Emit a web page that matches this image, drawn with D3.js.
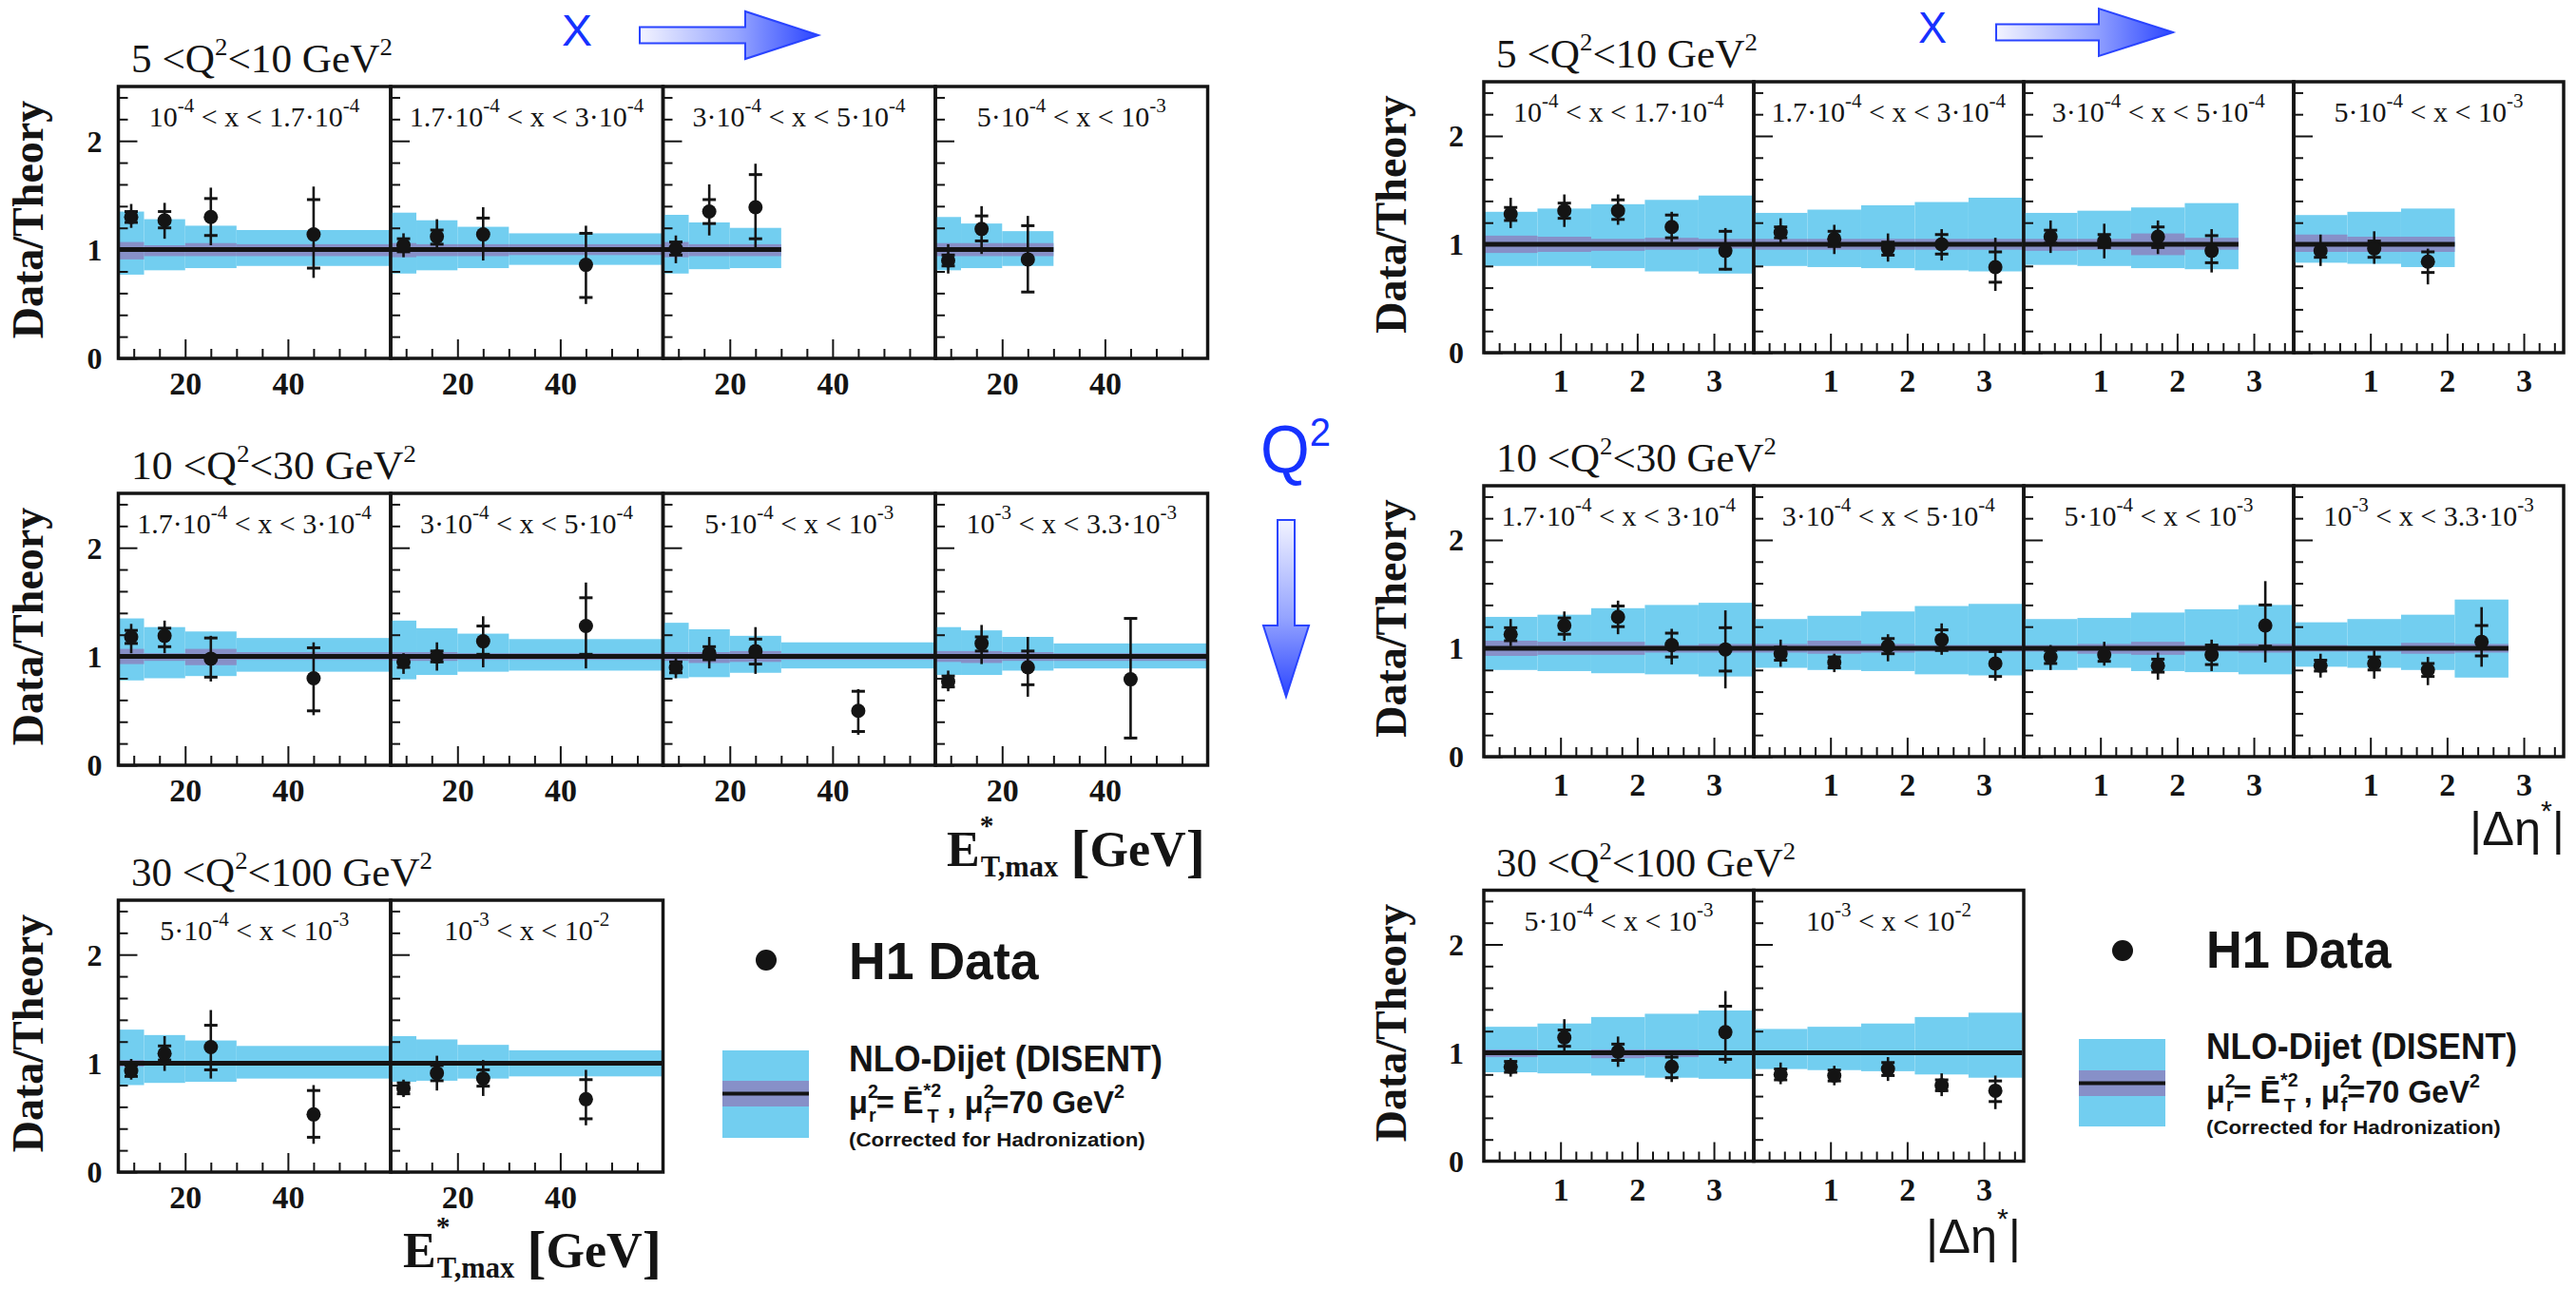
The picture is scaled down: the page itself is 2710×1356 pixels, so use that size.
<!DOCTYPE html>
<html><head><meta charset="utf-8">
<script src="https://cdn.jsdelivr.net/npm/d3@7"></script>
<style>body{margin:0;background:#fff}svg{display:block}text{white-space:pre}</style>
</head><body><script>
// ---------------- data ----------------
const yMajor=[0,1,2];
const yMinor=[0.2,0.4,0.6,0.8,1.2,1.4,1.6,1.8,2.2,2.4];
const etEdges=[7,12,20,30,60];
const etCenters=[9.5,16,25,45];
const etMajor=[20,40];
const etMinor=[10,15,25,30,35,45,50,55];
const detaEdges=[0,0.7,1.4,2.1,2.8,3.5];
const detaCenters=[0.35,1.05,1.75,2.45,3.15];
const detaMajor=[1,2,3];
const detaMinor=[0.2,0.4,0.6,0.8,1.2,1.4,1.6,1.8,2.2,2.4,2.6,2.8,3.2,3.4];
const q2Titles=['5 <Q^2<10 GeV^2','10 <Q^2<30 GeV^2','30 <Q^2<100 GeV^2'];
const xBinLabels=[
 ['10^-4 < x < 1.7·10^-4','1.7·10^-4 < x < 3·10^-4','3·10^-4 < x < 5·10^-4','5·10^-4 < x < 10^-3'],
 ['1.7·10^-4 < x < 3·10^-4','3·10^-4 < x < 5·10^-4','5·10^-4 < x < 10^-3','10^-3 < x < 3.3·10^-3'],
 ['5·10^-4 < x < 10^-3','10^-3 < x < 10^-2']];

// points: [value, statLo, statHi, totLo, totHi] ; band: [hi, lo, scaleHi, scaleLo]
// --- E_T,max panels
const et_r1_p1_pts=[[1.30,1.25,1.35,1.20,1.42],[1.27,1.20,1.35,1.10,1.43],[1.30,1.13,1.47,1.04,1.57],[1.14,0.83,1.46,0.74,1.58]];
const et_r1_p1_band=[[1.35,0.77,1.07,0.91],[1.28,0.81,1.04,0.94],[1.22,0.83,1.06,0.94],[1.18,0.85,1.05,0.94]];
const et_r1_p2_pts=[[1.04,0.98,1.10,0.93,1.15],[1.12,1.05,1.18,1.01,1.28],[1.14,1.00,1.29,0.90,1.39],[0.86,0.56,1.15,0.50,1.22]];
const et_r1_p2_band=[[1.34,0.78,1.06,0.93],[1.27,0.81,1.05,0.94],[1.21,0.83,1.05,0.94],[1.15,0.86,1.05,0.95]];
const et_r1_p3_pts=[[1.01,0.95,1.07,0.875,1.13],[1.35,1.24,1.46,1.13,1.60],[1.39,1.10,1.69,1.01,1.79]];
const et_r1_p3_band=[[1.32,0.78,1.07,0.93],[1.25,0.82,1.05,0.94],[1.20,0.83,1.05,0.94]];
const et_r1_p4_pts=[[0.90,0.85,0.95,0.78,1.05],[1.19,1.08,1.31,0.96,1.40],[0.91,0.61,1.22,0.61,1.31]];
const et_r1_p4_band=[[1.30,0.81,1.06,0.94],[1.24,0.83,1.06,0.94],[1.17,0.85,1.06,0.94]];
const et_r2_p1_pts=[[1.18,1.12,1.24,1.03,1.30],[1.19,1.09,1.26,1.03,1.33],[0.98,0.81,1.17,0.77,1.19],[0.80,0.50,1.08,0.46,1.13]];
const et_r2_p1_band=[[1.35,0.78,1.07,0.93],[1.27,0.80,1.03,0.96],[1.23,0.82,1.07,0.92],[1.17,0.86,1.04,0.97]];
const et_r2_p2_pts=[[0.95,0.90,1.00,0.84,1.03],[1.00,0.95,1.05,0.87,1.13],[1.14,1.02,1.28,0.90,1.37],[1.28,1.02,1.54,0.89,1.68]];
const et_r2_p2_band=[[1.33,0.79,1.04,0.96],[1.26,0.83,1.04,0.96],[1.21,0.86,1.03,0.97],[1.16,0.87,1.03,0.97]];
const et_r2_p3_pts=[[0.90,0.85,0.95,0.80,0.99],[1.03,0.97,1.09,0.89,1.18],[1.05,0.93,1.16,0.84,1.27],[0.50,0.31,0.68,0.28,0.70]];
const et_r2_p3_band=[[1.31,0.80,1.04,0.96],[1.25,0.81,1.04,0.94],[1.19,0.85,1.05,0.95],[1.13,0.89,1.03,0.97]];
const et_r2_p4_pts=[[0.77,0.72,0.82,0.68,0.87],[1.12,1.05,1.18,0.93,1.29],[0.90,0.74,1.05,0.63,1.18],[0.79,0.25,1.35,0.25,1.35]];
const et_r2_p4_band=[[1.27,0.83,1.05,0.95],[1.24,0.83,1.05,0.94],[1.18,0.87,1.04,0.96],[1.12,0.89,1.03,0.96]];
const et_r3_p1_pts=[[0.93,0.88,0.98,0.85,1.04],[1.09,1.03,1.16,0.93,1.25],[1.15,0.94,1.35,0.86,1.49],[0.53,0.32,0.75,0.26,0.80]];
const et_r3_p1_band=[[1.31,0.80,1.03,0.97],[1.26,0.82,1.02,0.98],[1.21,0.83,1.01,0.99],[1.16,0.86,1.01,0.99]];
const et_r3_p2_pts=[[0.77,0.72,0.82,0.69,0.85],[0.91,0.84,0.98,0.75,1.07],[0.86,0.79,0.94,0.70,1.03],[0.67,0.49,0.85,0.43,0.94]];
const et_r3_p2_band=[[1.25,0.83,1.02,0.98],[1.22,0.84,1.01,0.99],[1.17,0.86,1.01,0.99],[1.12,0.88,1.01,0.99]];
// --- |Delta eta*| panels
const de_r1_p1_pts=[[1.28,1.22,1.34,1.15,1.43],[1.31,1.24,1.38,1.16,1.46],[1.31,1.23,1.41,1.18,1.46],[1.16,1.06,1.27,1.02,1.30],[0.94,0.77,1.12,0.76,1.15]];
const de_r1_p1_band=[[1.30,0.80,1.08,0.92],[1.33,0.80,1.07,0.93],[1.37,0.78,1.05,0.94],[1.41,0.75,1.06,0.95],[1.45,0.73,1.05,0.96]];
const de_r1_p2_pts=[[1.11,1.06,1.16,1.01,1.24],[1.05,0.98,1.12,0.91,1.18],[0.96,0.90,1.02,0.84,1.10],[1.00,0.91,1.09,0.85,1.14],[0.79,0.65,0.93,0.57,1.06]];
const de_r1_p2_band=[[1.29,0.80,1.05,0.95],[1.32,0.79,1.05,0.95],[1.36,0.78,1.05,0.95],[1.39,0.76,1.05,0.95],[1.43,0.75,1.05,0.95]];
const de_r1_p3_pts=[[1.07,1.01,1.13,0.92,1.22],[1.03,0.97,1.09,0.87,1.19],[1.07,0.97,1.16,0.91,1.22],[0.94,0.83,1.08,0.74,1.14]];
const de_r1_p3_band=[[1.29,0.81,1.05,0.94],[1.31,0.80,1.05,0.95],[1.34,0.78,1.10,0.90],[1.38,0.77,1.06,0.95]];
const de_r1_p4_pts=[[0.94,0.88,1.00,0.80,1.09],[0.96,0.88,1.03,0.82,1.12],[0.84,0.74,0.93,0.63,0.96]];
const de_r1_p4_band=[[1.27,0.83,1.09,0.93],[1.30,0.82,1.07,0.93],[1.33,0.79,1.07,0.93]];
const de_r2_p1_pts=[[1.13,1.07,1.19,1.02,1.27],[1.21,1.13,1.28,1.07,1.34],[1.29,1.20,1.39,1.13,1.44],[1.03,0.92,1.14,0.85,1.18],[0.99,0.79,1.19,0.63,1.35]];
const de_r2_p1_band=[[1.29,0.80,1.07,0.93],[1.31,0.79,1.06,0.94],[1.37,0.77,1.06,0.94],[1.40,0.76,1.03,0.96],[1.42,0.74,1.04,0.96]];
const de_r2_p2_pts=[[0.95,0.89,1.01,0.83,1.08],[0.87,0.82,0.92,0.78,0.95],[1.02,0.95,1.09,0.88,1.13],[1.08,0.98,1.17,0.94,1.23],[0.86,0.74,0.97,0.70,0.99]];
const de_r2_p2_band=[[1.27,0.82,1.04,0.96],[1.30,0.80,1.07,0.95],[1.34,0.79,1.04,0.96],[1.39,0.76,1.03,0.97],[1.41,0.75,1.03,0.97]];
const de_r2_p3_pts=[[0.92,0.86,0.98,0.80,1.03],[0.94,0.88,1.00,0.84,1.06],[0.84,0.78,0.90,0.71,0.96],[0.94,0.85,1.03,0.79,1.08],[1.21,1.02,1.40,0.87,1.62]];
const de_r2_p3_band=[[1.27,0.80,1.03,0.97],[1.28,0.82,1.04,0.95],[1.33,0.79,1.06,0.94],[1.36,0.78,1.03,0.97],[1.40,0.76,1.04,0.96]];
const de_r2_p4_pts=[[0.84,0.79,0.89,0.73,0.95],[0.86,0.80,0.92,0.72,0.98],[0.80,0.74,0.86,0.66,0.92],[1.06,0.93,1.21,0.83,1.38]];
const de_r2_p4_band=[[1.24,0.83,1.03,0.97],[1.27,0.82,1.02,0.97],[1.31,0.80,1.05,0.95],[1.45,0.73,1.04,0.96]];
const de_r3_p1_pts=[[0.87,0.82,0.92,0.78,0.95],[1.14,1.06,1.21,1.01,1.31],[1.01,0.93,1.08,0.87,1.15],[0.87,0.77,0.96,0.73,1.01],[1.19,0.94,1.43,0.90,1.57]];
const de_r3_p1_band=[[1.24,0.82,1.03,0.96],[1.27,0.81,1.01,0.98],[1.33,0.79,1.03,0.95],[1.36,0.77,1.03,0.96],[1.39,0.76,1.01,0.99]];
const de_r3_p2_pts=[[0.80,0.75,0.85,0.71,0.91],[0.79,0.74,0.84,0.70,0.88],[0.85,0.79,0.91,0.74,0.96],[0.70,0.65,0.75,0.60,0.81],[0.65,0.55,0.74,0.48,0.79]];
const de_r3_p2_band=[[1.22,0.85,1.01,0.98],[1.24,0.84,1.01,0.98],[1.27,0.83,1.02,0.98],[1.33,0.80,1.01,0.99],[1.37,0.77,1.01,0.99]];

const etPanels=[
 [[et_r1_p1_pts,et_r1_p1_band],[et_r1_p2_pts,et_r1_p2_band],[et_r1_p3_pts,et_r1_p3_band],[et_r1_p4_pts,et_r1_p4_band]],
 [[et_r2_p1_pts,et_r2_p1_band],[et_r2_p2_pts,et_r2_p2_band],[et_r2_p3_pts,et_r2_p3_band],[et_r2_p4_pts,et_r2_p4_band]],
 [[et_r3_p1_pts,et_r3_p1_band],[et_r3_p2_pts,et_r3_p2_band]]];
const dePanels=[
 [[de_r1_p1_pts,de_r1_p1_band],[de_r1_p2_pts,de_r1_p2_band],[de_r1_p3_pts,de_r1_p3_band],[de_r1_p4_pts,de_r1_p4_band]],
 [[de_r2_p1_pts,de_r2_p1_band],[de_r2_p2_pts,de_r2_p2_band],[de_r2_p3_pts,de_r2_p3_band],[de_r2_p4_pts,de_r2_p4_band]],
 [[de_r3_p1_pts,de_r3_p1_band],[de_r3_p2_pts,de_r3_p2_band]]];

// ---------------- drawing ----------------
const SERIF='"Liberation Serif","Times New Roman",serif';
const SANS='"Liberation Sans",Arial,Helvetica,sans-serif';
const BAND='#72cef0', PURP='#8790c8', INK='#141414', BLUE='#1632ff';
const svg=d3.select('body').append('svg').attr('width',2710).attr('height',1356);

const defs=svg.append('defs');
const gh=defs.append('linearGradient').attr('id','gh').attr('x1','0').attr('x2','1').attr('y1','0').attr('y2','0');
gh.append('stop').attr('offset','0').attr('stop-color','#f2f3ff');
gh.append('stop').attr('offset','0.55').attr('stop-color','#95a4ff');
gh.append('stop').attr('offset','1').attr('stop-color','#2b45ff');
const gv=defs.append('linearGradient').attr('id','gv').attr('x1','0').attr('x2','0').attr('y1','0').attr('y2','1');
gv.append('stop').attr('offset','0').attr('stop-color','#f2f3ff');
gv.append('stop').attr('offset','0.55').attr('stop-color','#95a4ff');
gv.append('stop').attr('offset','1').attr('stop-color','#2b45ff');

function parseSegs(str){
  return str.split(/(\^-?\d+)/).filter(s=>s.length).map(s=>s[0]==='^'?{t:s.slice(1),sup:true}:{t:s});
}
function rich(parent,segs,o){
  const g=parent.append('g');
  const t=g.append('text').attr('font-family',o.family).attr('font-size',o.size)
    .attr('font-weight',o.weight||'normal').attr('fill',o.fill||INK);
  let cur=0;
  segs.forEach(s=>{
    const sz=s.size!==undefined?s.size:((s.sup||s.sub)?o.size*(o.supScale||0.66):o.size);
    const rise=s.rise!==undefined?s.rise:(s.sup?-o.size*(o.supRise||0.42):(s.sub?o.size*0.22:0));
    const ts=t.append('tspan').text(s.t).attr('font-size',sz).attr('dy',rise-cur);
    if(s.dx) ts.attr('dx',s.dx);
    cur=rise;
  });
  const w=t.node().getBBox().width;
  const sx=o.width?o.width/w:(o.sx||1);
  const real=w*sx;
  const left=o.anchor==='middle'?o.x-real/2:(o.anchor==='end'?o.x-real:o.x);
  g.attr('transform',`translate(${left},${o.y}) scale(${sx},1)`);
  return g;
}

function drawPanel(g,o){
  const x=d3.scaleLinear().domain(o.dom).range([o.x0,o.x0+o.w]);
  const y=d3.scaleLinear().domain([0,2.5]).range([o.yBase,o.yTop]);
  const nb=o.band.length;
  g.append('g').selectAll('rect').data(o.band).join('rect')
    .attr('x',(d,i)=>x(o.edges[i])).attr('width',(d,i)=>x(o.edges[i+1])-x(o.edges[i]))
    .attr('y',d=>y(d[0])).attr('height',d=>y(d[1])-y(d[0])).attr('fill',BAND);
  g.append('g').selectAll('rect').data(o.band).join('rect')
    .attr('x',(d,i)=>x(o.edges[i])).attr('width',(d,i)=>x(o.edges[i+1])-x(o.edges[i]))
    .attr('y',d=>y(d[2])).attr('height',d=>y(d[3])-y(d[2])).attr('fill',PURP);
  g.append('line').attr('x1',x(o.edges[0])).attr('x2',x(o.edges[nb]))
    .attr('y1',y(1)).attr('y2',y(1)).attr('stroke',INK).attr('stroke-width',5);
  // axis ticks (inside)
  const ya=g.append('g').attr('transform',`translate(${o.x0},0)`);
  ya.append('g').call(d3.axisRight(y).tickValues(yMajor).tickSize(20).tickFormat(''));
  ya.append('g').call(d3.axisRight(y).tickValues(yMinor).tickSize(10).tickFormat(''));
  const xa=g.append('g').attr('transform',`translate(0,${o.yBase})`);
  xa.append('g').call(d3.axisTop(x).tickValues(o.major).tickSize(20).tickFormat(''));
  xa.append('g').call(d3.axisTop(x).tickValues(o.minor).tickSize(10).tickFormat(''));
  const xl=g.append('g').attr('transform',`translate(0,${o.yBase})`)
    .call(d3.axisBottom(x).tickValues(o.major).tickSize(0).tickFormat(d3.format('d')));
  xl.selectAll('text').attr('y',o.labOff).attr('dy',0).attr('font-family',SERIF)
    .attr('font-weight','bold').attr('font-size',34).attr('fill',INK);
  if(o.first){
    const yl=g.append('g').attr('transform',`translate(${o.x0},0)`)
      .call(d3.axisLeft(y).tickValues(yMajor).tickSize(0).tickPadding(o.pad).tickFormat(d3.format('d')));
    yl.selectAll('text').attr('font-family',SERIF).attr('font-weight','bold').attr('font-size',32)
      .attr('fill',INK).attr('dy','0.34em');
    yl.select('.domain').remove();
  }
  g.selectAll('.domain').remove();
  g.selectAll('.tick line').attr('stroke',INK).attr('stroke-width',2);
  // data
  const pg=g.append('g');
  pg.selectAll('line.tot').data(o.pts).join('line').attr('class','tot')
    .attr('x1',(d,i)=>x(o.centers[i])).attr('x2',(d,i)=>x(o.centers[i]))
    .attr('y1',d=>y(d[3])).attr('y2',d=>y(d[4])).attr('stroke',INK).attr('stroke-width',2.6);
  [1,2].forEach(k=>{
    pg.selectAll('line.st'+k).data(o.pts).join('line').attr('class','st'+k)
      .attr('x1',(d,i)=>x(o.centers[i])-7).attr('x2',(d,i)=>x(o.centers[i])+7)
      .attr('y1',d=>y(d[k])).attr('y2',d=>y(d[k])).attr('stroke',INK).attr('stroke-width',3);
  });
  pg.selectAll('circle').data(o.pts).join('circle')
    .attr('cx',(d,i)=>x(o.centers[i])).attr('cy',d=>y(d[0])).attr('r',7.5).attr('fill',INK);
  // frame
  g.append('rect').attr('x',o.x0).attr('y',o.yTop).attr('width',o.w).attr('height',o.yBase-o.yTop)
    .attr('fill','none').attr('stroke',INK).attr('stroke-width',3.5);
  rich(g,parseSegs(o.label),{x:o.x0+o.w/2,y:o.yTop+42,size:30,family:SERIF,anchor:'middle',supScale:0.7,supRise:0.5});
}

const groups=[
 {panels:etPanels,x0:124.5,pw:286.5,yBases:[377,805,1233],unit:114.4,dom:[7,60],edges:etEdges,centers:etCenters,
  major:etMajor,minor:etMinor,labOff:38,pad:17,dtX:45,titleX:138,titleW:[275,300,317]},
 {panels:dePanels,x0:1561,pw:284,yBases:[371,796,1221.5],unit:114,dom:[0,3.52],edges:detaEdges,centers:detaCenters,
  major:detaMajor,minor:detaMinor,labOff:41,pad:21,dtX:1479,titleX:1574,titleW:[275,295,315]}];

groups.forEach(G=>{
  G.panels.forEach((row,r)=>{
    const yBase=G.yBases[r], yTop=yBase-2.5*G.unit;
    row.forEach((p,c)=>{
      drawPanel(svg.append('g'),{x0:G.x0+c*G.pw,w:G.pw,yBase,yTop,dom:G.dom,edges:G.edges,centers:G.centers,
        pts:p[0],band:p[1],label:xBinLabels[r][c],major:G.major,minor:G.minor,labOff:G.labOff,pad:G.pad,first:c===0});
    });
    rich(svg,parseSegs(q2Titles[r]),{x:G.titleX,y:yTop-15,size:42,family:SERIF,width:G.titleW[r],supScale:0.62,supRise:0.42});
    svg.append('text').attr('transform',`translate(${G.dtX},${(yTop+yBase)/2-3}) rotate(-90)`)
      .attr('text-anchor','middle').attr('font-family',SERIF).attr('font-weight','bold')
      .attr('font-size',46).attr('fill',INK).text('Data/Theory');
  });
});

// axis titles
function etLabel(x,y){
  rich(svg,[{t:'E'},{t:'*',size:30,rise:-33},{t:'T,max',size:31,rise:11,dx:-14},{t:' '},{t:'[',size:62,rise:5},{t:'GeV',rise:0},{t:']',size:62,rise:5}],
    {x,y,size:53,family:SERIF,weight:'bold',width:272});
}
etLabel(996,911); etLabel(424,1333);
function deLabel(x,y){
  rich(svg,[{t:'|Δη'},{t:'*',size:30,rise:-26},{t:'|',rise:0}],{x,y,size:50,family:SANS,width:100});
}
deLabel(2598,889); deLabel(2026,1318);

// blue direction arrows
function hArrow(x0,xh,x1,yc,sh,hh){
  return `M${x0},${yc-sh}L${xh},${yc-sh}L${xh},${yc-hh}L${x1},${yc}L${xh},${yc+hh}L${xh},${yc+sh}L${x0},${yc+sh}Z`;
}
function vArrow(xc,y0,yh,y1,sw,hw){
  return `M${xc-sw},${y0}L${xc+sw},${y0}L${xc+sw},${yh}L${xc+hw},${yh}L${xc},${y1}L${xc-hw},${yh}L${xc-sw},${yh}Z`;
}
svg.append('path').attr('d',hArrow(673,784,861,37,8.5,25)).attr('fill','url(#gh)').attr('stroke','#2a44ff').attr('stroke-width',2);
svg.append('path').attr('d',hArrow(2100,2208,2286,34,8.5,25)).attr('fill','url(#gh)').attr('stroke','#2a44ff').attr('stroke-width',2);
svg.append('path').attr('d',vArrow(1353,547,658,733,9,24)).attr('fill','url(#gv)').attr('stroke','#2a44ff').attr('stroke-width',2);
rich(svg,[{t:'X'}],{x:591,y:48,size:46,family:SANS,fill:BLUE,width:32});
rich(svg,[{t:'X'}],{x:2018,y:45,size:46,family:SANS,fill:BLUE,width:30});
rich(svg,[{t:'Q'},{t:'2',size:42,rise:-28}],{x:1326,y:497,size:70,family:SANS,fill:BLUE,width:74});

// legends
function legend(o){
  svg.append('circle').attr('cx',o.dotX).attr('cy',o.dotY).attr('r',11).attr('fill',INK);
  rich(svg,[{t:'H1 Data'}],{x:o.tx,y:o.h1Y,size:55,family:SANS,weight:'bold',width:o.h1W});
  svg.append('rect').attr('x',o.bx).attr('y',o.by).attr('width',o.bw).attr('height',o.bh).attr('fill',BAND);
  svg.append('rect').attr('x',o.bx).attr('y',o.py).attr('width',o.bw).attr('height',o.ph).attr('fill',PURP);
  svg.append('line').attr('x1',o.bx).attr('x2',o.bx+o.bw).attr('y1',o.py+o.ph/2).attr('y2',o.py+o.ph/2).attr('stroke',INK).attr('stroke-width',4);
  rich(svg,[{t:'NLO-Dijet (DISENT)'}],{x:o.tx,y:o.nY,size:38,family:SANS,weight:'bold',width:o.nW});
  rich(svg,[{t:'μ'},{t:'2',size:20,rise:-16},{t:'r',size:20,rise:9,dx:-10},{t:'= Ē',rise:0},{t:'*2',size:20,rise:-17},{t:'T',size:20,rise:10,dx:-15},
            {t:' , μ',rise:0},{t:'2',size:20,rise:-16},{t:'f',size:20,rise:9,dx:-10},{t:'=70 GeV',rise:0},{t:'2',size:20,rise:-16}],
    {x:o.tx,y:o.mY,size:33,family:SANS,weight:'bold',width:o.mW});
  rich(svg,[{t:'(Corrected for Hadronization)'}],{x:o.tx,y:o.cY,size:20,family:SANS,weight:'bold',width:o.cW});
}
legend({dotX:806,dotY:1010,tx:893,h1Y:1030,h1W:200,bx:760,by:1105,bw:91,bh:92,py:1137,ph:27,nY:1127,nW:330,mY:1171,mW:290,cY:1206,cW:312});
legend({dotX:2233,dotY:1000,tx:2321,h1Y:1018,h1W:195,bx:2187,by:1093,bw:91,bh:92,py:1126,ph:27,nY:1114,nW:327,mY:1160,mW:288,cY:1193,cW:310});
</script></body></html>
